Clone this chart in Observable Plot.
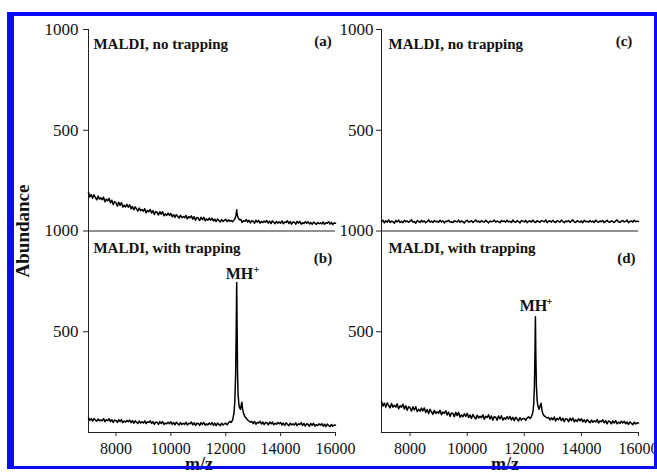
<!DOCTYPE html>
<html>
<head>
<meta charset="utf-8">
<script src="https://cdn.jsdelivr.net/npm/d3@7"></script>
<script src="https://cdn.jsdelivr.net/npm/@observablehq/plot@0.6"></script>
<style>
  html, body { margin: 0; padding: 0; background: white; }
  #wrap { position: relative; width: 657px; height: 473px; overflow: hidden; background: white; font-family: "Liberation Serif", serif; }
  #wrap svg { position: absolute; top: 0; }
  .lbl { position: absolute; font-weight: bold; color: #111; white-space: nowrap; line-height: 1; }
  #frame { position: absolute; left: 7px; top: 12px; width: 650px; height: 457px; box-sizing: border-box; border-style: solid; border-color: #0a0af5; border-width: 4px 3px 3px 7px; pointer-events: none; }
</style>
</head>
<body>
<div id="wrap"></div>
<script>
// m/z sampling grid (every 50) and tick values
const mzGrid = d3.range(7000, 16001, 50);
const xTicks = [8000, 10000, 12000, 14000, 16000];
const yTicks = [500, 1000, 1500, 2000];
const yTickLabels = ["500", "1000", "500", "1000"];

// (a) MALDI, no trapping (left top) — abundance read every 50 m/z
const specA = [
  191,169,181,162,180,167,155,173,158,165,
  155,168,145,158,150,162,140,153,131,146,
  140,123,143,127,141,119,128,119,132,118,
  130,110,122,105,120,110,99,114,101,107,
  98,111,90,102,96,107,89,101,82,96,
  92,79,96,83,96,76,85,77,89,77,
  87,71,81,67,81,73,64,78,66,72,
  66,77,60,71,66,75,59,71,54,67,
  64,52,68,56,68,51,60,53,64,54,
  63,50,59,47,59,52,45,57,47,53,
  58,47,55,49,52,46,54,62,106,76,
  56,57,43,51,48,57,44,53,40,51,
  49,39,53,44,53,39,47,42,50,43,
  52,39,49,37,50,43,36,48,39,45,
  39,50,36,45,42,51,37,47,34,45,
  44,34,48,39,48,34,41,37,46,39,
  46,35,42,33,44,39,33,42,36,41,
  35,45,33,41,38,46,34,43,32,40,
  38];
const peakAmz  = [12300,12340,12370,12390,12400,12410,12430,12460,12500];
const peakAval = [54,62,75,92,106,90,76,64,56];

// (b) MALDI, with trapping (left bottom)
const specB = [
  73,60,69,57,69,62,56,67,58,63,
  58,69,54,63,59,68,54,64,50,61,
  60,50,63,54,64,49,57,52,60,53,
  62,49,59,46,58,51,45,57,47,53,
  47,58,44,53,50,58,45,54,41,52,
  50,40,54,45,54,40,47,43,51,44,
  53,40,50,38,51,44,37,49,40,46,
  40,51,37,46,43,52,38,48,35,46,
  45,35,49,40,50,36,43,38,47,40,
  49,36,46,34,47,40,34,46,37,43,
  46,38,48,55,95,150,280,745,190,125,
  125,115,150,120,78,70,62,57,51,55,
  44,55,41,50,47,56,42,52,39,50,
  48,38,52,43,52,38,46,41,50,43,
  50,37,47,35,48,41,34,46,37,43,
  37,48,34,43,40,49,35,45,32,43,
  41,31,45,36,46,32,39,34,43,36,
  44,31,41,29,42,35,29,40,31,37,
  36];
const peakBmz  = [12200,12250,12300,12330,12360,12380,12400,12415,12430,12450,12480,12500,12540,12570,12590,12610,12650,12700,12800];
const peakBval = [50,62,95,150,280,480,745,520,300,190,140,125,115,140,150,120,95,78,62];

// (c) MALDI, no trapping (right top)
const specC = [
  47,53,40,51,44,55,42,49,46,39,
  52,45,54,42,48,41,53,46,50,43,
  49,55,44,47,39,51,48,42,53,45,
  50,41,47,55,44,49,42,52,46,48,
  43,54,45,50,40,49,47,53,44,46,
  42,51,48,45,54,43,50,46,40,49,
  53,44,47,51,42,48,55,45,49,43,
  51,46,44,53,47,40,50,45,48,54,
  44,49,46,41,52,47,50,44,53,45,
  48,42,55,46,43,51,47,40,52,49,
  45,53,41,48,50,44,54,46,42,51,
  47,43,52,49,45,55,41,48,50,44,
  53,46,42,51,48,44,54,47,41,50,
  46,52,43,49,55,45,42,51,47,44,
  50,41,53,46,48,44,52,45,49,42,
  54,47,43,50,46,52,41,48,53,45,
  44,51,47,42,50,55,46,43,49,52,
  45,48,54,41,47,50,44,53,46,49,
  47];

// (d) MALDI, with trapping (right bottom)
const specD = [
  154,131,146,126,147,134,122,144,126,135,
  126,142,118,133,126,140,117,133,110,128,
  123,106,128,112,128,104,115,106,121,107,
  122,99,114,94,115,102,90,110,94,103,
  96,110,88,102,95,108,87,101,80,97,
  95,78,100,84,100,76,87,78,93,80,
  95,74,87,70,89,78,67,86,72,81,
  73,88,66,81,74,88,67,82,61,79,
  76,61,82,68,83,62,73,66,79,67,
  80,62,75,59,76,67,57,74,62,70,
  70,60,72,78,100,140,230,575,380,160,
  115,135,145,110,82,75,72,75,62,73,
  63,77,57,70,64,76,59,71,54,69,
  66,54,71,59,72,53,63,55,68,58,
  68,53,63,50,64,56,48,62,51,58,
  52,64,47,58,53,63,48,59,43,57,
  54,43,58,47,59,43,51,45,56,47,
  56,43,52,40,53,46,39,51,42,48,
  47];
const peakDmz  = [12200,12250,12300,12330,12355,12375,12390,12405,12425,12450,12480,12520,12560,12590,12620,12660,12700,12800];
const peakDval = [70,78,100,140,230,400,575,380,230,160,130,115,135,145,110,90,82,72];

// annotation texts
const titleTop = "MALDI, no trapping";
const titleBottom = "MALDI, with trapping";
const panelTags = ["(a)", "(b)", "(c)", "(d)"];

function series(vals, pMz, pVal, offset) {
  let pts = mzGrid.map((x, i) => ({x, y: vals[i] + offset}));
  if (pMz) {
    const lo = pMz[0], hi = pMz[pMz.length - 1];
    pts = pts.filter(p => p.x < lo || p.x > hi);
    pMz.forEach((x, i) => pts.push({x, y: pVal[i] + offset}));
  }
  return pts.sort((a, b) => a.x - b.x);
}

const tickLabel = new Map(yTicks.map((t, i) => [t, yTickLabels[i]]));
const hasAxisMarks = typeof Plot.axisX === "function" && typeof Plot.axisY === "function";

function panel(opts) {
  const {width, marginLeft, marginRight, top, bottom, tagTop, tagBottom, titleX, tagXTop, tagXBottom, mhX, mhY, plusX, plusY, yPad} = opts;
  const txt = {fontFamily: "Liberation Serif", fontWeight: "bold", fill: "#111"};
  const xOpt = {domain: [7000, 16000], label: null};
  const yOpt = {domain: [0, 2000], label: null};
  const axes = [];
  if (hasAxisMarks) {
    axes.push(Plot.axisX({ticks: xTicks, tickFormat: d => String(d), tickSize: 4, tickPadding: 6, fontSize: 16, label: null, stroke: "#222"}));
    axes.push(Plot.axisY({ticks: yTicks, tickFormat: d => tickLabel.get(d), tickSize: 5, tickPadding: yPad, fontSize: 17, label: null, stroke: "#222"}));
  } else {
    Object.assign(xOpt, {ticks: xTicks, tickFormat: d => String(d), tickSize: 4, tickPadding: 6});
    Object.assign(yOpt, {ticks: yTicks, tickFormat: d => tickLabel.get(d), tickSize: 5, tickPadding: yPad});
  }
  return Plot.plot({
    width, height: 473,
    marginLeft, marginRight, marginTop: 29, marginBottom: 41,
    x: xOpt,
    y: yOpt,
    style: {background: "transparent", overflow: "visible", fontFamily: "Liberation Serif", fontSize: "16px", color: "#111"},
    marks: [
      ...axes,
      Plot.ruleX([7000], {y1: 0, y2: 2000, stroke: "#222"}),
      Plot.ruleY([0], {x1: 7000, x2: 16000, stroke: "#222"}),
      Plot.ruleY([1000], {x1: 7000, x2: 16000, stroke: "#222"}),
      Plot.line(top, {x: "x", y: "y", stroke: "#000", strokeWidth: 1.5}),
      Plot.line(bottom, {x: "x", y: "y", stroke: "#000", strokeWidth: 1.5}),
      Plot.text([titleTop], {x: titleX, y: 1928, text: d => d, textAnchor: "start", fontSize: 15, ...txt}),
      Plot.text([titleBottom], {x: titleX, y: 913, text: d => d, textAnchor: "start", fontSize: 15, ...txt}),
      Plot.text([tagTop], {x: tagXTop, y: 1942, text: d => d, textAnchor: "middle", fontSize: 15, ...txt}),
      Plot.text([tagBottom], {x: tagXBottom, y: 863, text: d => d, textAnchor: "middle", fontSize: 15, ...txt}),
      Plot.text(["MH"], {x: mhX, y: mhY, text: d => d, textAnchor: "middle", fontSize: 16, ...txt}),
      Plot.text(["+"], {x: plusX, y: plusY, text: d => d, textAnchor: "middle", fontSize: 11, ...txt})
    ]
  });
}

const wrap = document.getElementById("wrap");

const leftSvg = panel({
  width: 340, marginLeft: 88, marginRight: 5,
  top: series(specA, peakAmz, peakAval, 1000),
  bottom: series(specB, peakBmz, peakBval, 0),
  tagTop: panelTags[0], tagBottom: panelTags[1],
  titleX: 7180, tagXTop: 15546, tagXBottom: 15546,
  mhX: 12500, mhY: 789, plusX: 13122, plusY: 809, yPad: 5
});
leftSvg.style.left = "0px";
wrap.appendChild(leftSvg);

const rightSvg = panel({
  width: 337, marginLeft: 61, marginRight: 19,
  top: series(specC, null, null, 1000),
  bottom: series(specD, peakDmz, peakDval, 0),
  tagTop: panelTags[2], tagBottom: panelTags[3],
  titleX: 7245, tagXTop: 15491, tagXBottom: 15578,
  mhX: 12322, mhY: 630, plusX: 12882, plusY: 650, yPad: 3
});
rightSvg.style.left = "320px";
wrap.appendChild(rightSvg);

// axis titles
const ab = document.createElement("div");
ab.className = "lbl";
ab.textContent = "Abundance";
ab.style.fontSize = "19px";
ab.style.left = "22px";
ab.style.top = "231px";
ab.style.transform = "translate(-50%, -50%) rotate(-90deg)";
wrap.appendChild(ab);

for (const cx of [199, 505]) {
  const mz = document.createElement("div");
  mz.className = "lbl";
  mz.textContent = "m/z";
  mz.style.fontSize = "18px";
  mz.style.left = cx + "px";
  mz.style.top = "455px";
  mz.style.transform = "translateX(-50%)";
  wrap.appendChild(mz);
}

const frame = document.createElement("div");
frame.id = "frame";
wrap.appendChild(frame);
</script>
</body>
</html>
